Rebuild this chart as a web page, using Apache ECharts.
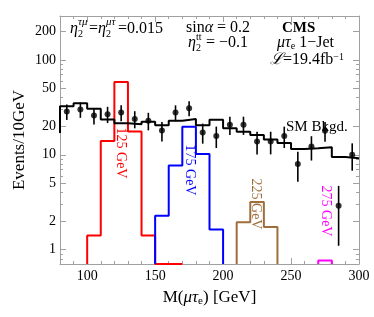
<!DOCTYPE html>
<html><head><meta charset="utf-8">
<script src="https://cdn.jsdelivr.net/npm/echarts@6/dist/echarts.min.js"></script>
<style>html,body{margin:0;padding:0;background:#fff}#c{width:374px;height:317px}</style>
</head><body><div id="c"></div>
<script>
// ---- data ----
const xMajorTicks = [100, 150, 200, 250, 300];
const xMinorTicks = [90, 110, 120, 130, 140, 160, 170, 180, 190, 210, 220, 230, 240, 260, 270, 280, 290];
const yMajorTicks = [1, 2, 5, 10, 20, 50, 100, 200];
const yMinorTicks = [0.8, 0.9, 3, 4, 6, 7, 8, 9, 30, 40, 60, 70, 80, 90];

// step histograms: x = bin right edge (first entry = starting edge), y = bin content
const bkgX = [80, 90, 100, 110, 120, 130, 140, 150, 160, 170, 180, 190, 200, 210, 220, 230, 240, 250, 260, 270, 280, 290, 300];
const bkgY = [17, 32.5, 35, 30.5, 23.5, 21.5, 21, 22.3, 20.5, 22.8, 23.8, 20.5, 23.4, 19, 17.5, 16.2, 14.5, 13.3, 11.5, 11.7, 12, 9.5, 9.2];

const sig125X = [100, 110, 120, 130, 140, 150, 170];
const sig125Y = [0.707, 1.41, 14, 58.5, 17.6, 1.41, 0.707];
const sig175X = [150, 160, 170, 180, 190, 200, 200];
const sig175Y = [0.707, 2.28, 7.7, 19.8, 10.2, 1.63, 0.707];
const sig225X = [210, 220, 230, 240, 240];
const sig225Y = [0.707, 1.95, 3.18, 1.73, 0.707];
const sig275X = [270, 280, 280];
const sig275Y = [0.707, 0.77, 0.707];

// observed data (bin centres), value and error
const obsX = [85, 95, 105, 115, 125, 135, 145, 155, 165, 175, 185, 195, 205, 215, 225, 235, 245, 255, 265, 275, 285, 295];
const obsY = [28.6, 30, 26, 26.8, 27.9, 23.9, 22.9, 18, 27.9, 31, 17.2, 15.8, 20.7, 20.7, 13.8, 13.8, 15.8, 8.0, 12.2, 17.9, 2.9, 10];
const obsErr = [5.3, 5.5, 5.1, 5.2, 5.3, 4.9, 4.8, 4.2, 5.3, 5.6, 4.1, 4.0, 4.5, 4.5, 3.7, 3.7, 4.0, 2.8, 3.5, 4.2, 1.8, 3.2];

const xMin = 80, xMax = 300, yMin = 0.707, yMax = 290;

// ---- chart ----
const SERIF = '"Liberation Serif","DejaVu Serif",serif';
const FRAME = '#a0a0a0';
const zip = (a, b) => a.map((v, i) => [v, b[i]]);

function xAxisDef(pos, ticks, len, showLine, labels, name) {
  return {
    type: 'value', min: xMin, max: xMax, position: pos,
    axisLine: {show: showLine, onZero: false, lineStyle: {color: FRAME, width: 1}},
    axisTick: {show: true, inside: true, length: len, customValues: ticks, lineStyle: {color: FRAME, width: 1}},
    axisLabel: labels ? {show: true, customValues: ticks, color: '#000', fontFamily: SERIF, fontSize: 14, margin: 5} : {show: false},
    splitLine: {show: false},
    name: name || '', nameLocation: 'middle', nameGap: 24, nameMoveOverlap: false,
    nameTextStyle: {color: '#000', fontFamily: SERIF, fontSize: 17,
      rich: {
        n: {fontFamily: SERIF, fontSize: 17, color: '#000'},
        g: {fontFamily: SERIF, fontSize: 17, fontStyle: 'italic', color: '#000'},
        s: {fontFamily: SERIF, fontSize: 11, color: '#000', verticalAlign: 'bottom', padding: [8, 0, 0, 0]}
      }}
  };
}
function yAxisDef(pos, ticks, len, showLine, labels) {
  return {
    type: 'log', logBase: 10, min: yMin, max: yMax, position: pos,
    axisLine: {show: showLine, onZero: false, lineStyle: {color: FRAME, width: 1}},
    axisTick: {show: true, inside: true, length: len, customValues: ticks, lineStyle: {color: FRAME, width: 1}},
    axisLabel: labels ? {show: true, customValues: ticks, color: '#000', fontFamily: SERIF, fontSize: 14, margin: 4} : {show: false},
    splitLine: {show: false}, minorTick: {show: false}
  };
}

const chart = echarts.init(document.getElementById('c'), null, {renderer: 'canvas'});

function stepSeries(xs, ys, color, z) {
  return {type: 'line', step: 'start', data: zip(xs, ys), showSymbol: false, symbol: 'none',
    lineStyle: {color: color, width: 2}, xAxisIndex: 0, yAxisIndex: 0, z: z, clip: true, animation: false};
}

function txt(x, y, text, opts) {
  opts = opts || {};
  return {type: 'text', x: x, y: y, rotation: opts.rot || 0, z: 100,
    style: Object.assign({text: text, fill: opts.color || '#000', font: (opts.style || '') + ' ' + (opts.weight || '') + ' ' + (opts.size || 16) + 'px ' + SERIF,
      align: opts.align || 'left', verticalAlign: 'middle'}, opts.extra || {})};
}
const richBase = {
  n: {fontFamily: SERIF, fontSize: 16, fill: '#000'},
  g: {fontFamily: SERIF, fontSize: 16, fontStyle: 'italic', fill: '#000'},
  b: {fontFamily: SERIF, fontSize: 16, fontWeight: 'bold', fill: '#000'}
};
function rtxt(x, y, text, rich) {
  return {type: 'text', x: x, y: y, z: 100,
    style: {text: text, rich: Object.assign({}, richBase, rich || {}), fill: '#000', fontFamily: SERIF, fontSize: 16, align: 'left', verticalAlign: 'middle'}};
}

const option = {
  animation: false,
  backgroundColor: '#fff',
  grid: {left: 60, right: 15, top: 16, bottom: 53, containLabel: false},
  xAxis: [
    xAxisDef('bottom', xMajorTicks, 6, true, true, '{n|M(}{g|μτ}{s|e}{n|) [GeV]}'),
    xAxisDef('bottom', xMinorTicks, 3, false, false),
    xAxisDef('top', xMajorTicks, 6, true, false),
    xAxisDef('top', xMinorTicks, 3, false, false)
  ],
  yAxis: [
    yAxisDef('left', yMajorTicks, 6, true, true),
    yAxisDef('left', yMinorTicks, 3, false, false),
    yAxisDef('right', yMajorTicks, 6, true, false),
    yAxisDef('right', yMinorTicks, 3, false, false)
  ],
  series: [
    stepSeries(sig125X, sig125Y, '#ff0000', 2),
    stepSeries(sig175X, sig175Y, '#0000ff', 2),
    stepSeries(sig225X, sig225Y, '#a06e3c', 2),
    stepSeries(sig275X, sig275Y, '#ff00ff', 2),
    stepSeries(bkgX, bkgY, '#000000', 3),
    {
      type: 'custom', xAxisIndex: 0, yAxisIndex: 0, z: 4, clip: true,
      data: obsX.map((x, i) => [x, obsY[i] - obsErr[i], obsY[i] + obsErr[i]]),
      encode: {x: 0, y: [1, 2]},
      renderItem: function (params, api) {
        const a = api.coord([api.value(0), api.value(1)]);
        const b = api.coord([api.value(0), api.value(2)]);
        return {type: 'line', shape: {x1: a[0], y1: a[1], x2: b[0], y2: b[1]}, style: {stroke: '#000', lineWidth: 1.6}};
      }
    },
    {type: 'scatter', data: zip(obsX, obsY), symbol: 'circle', symbolSize: 6, itemStyle: {color: '#000'}, z: 5, xAxisIndex: 0, yAxisIndex: 0}
  ],
  graphic: [
    // y axis title
    txt(20, 140, 'Events/10GeV', {size: 17, rot: Math.PI / 2, align: 'center'}),
    // line 1 left: eta2^{tau mu} = eta2^{mu tau} = 0.015
    txt(70, 29, 'η', {style: 'italic', size: 16}),
    txt(78, 34, '2', {size: 10}),
    txt(78, 22, 'τμ', {style: 'italic', size: 11}),
    txt(89, 29, '=', {size: 16}),
    txt(98, 29, 'η', {style: 'italic', size: 16}),
    txt(106, 34, '2', {size: 10}),
    txt(106, 22, 'μτ', {style: 'italic', size: 11}),
    txt(118, 29, '=0.015', {size: 16}),
    // sin alpha
    rtxt(186, 28, '{n|sin}{g|α}{n| = 0.2}'),
    // eta2^tt = -0.1
    txt(188, 43, 'η', {style: 'italic', size: 16}),
    txt(196, 48, '2', {size: 10}),
    txt(196, 37, 'tt', {size: 10}),
    txt(206, 43, '= −0.1', {size: 16}),
    // CMS block
    txt(282, 28, 'CMS', {weight: 'bold', size: 15}),
    rtxt(277, 43, '{g|μτ}{s|e}{n| 1−Jet}', {s: {fontFamily: SERIF, fontSize: 10, fill: '#000', verticalAlign: 'bottom'}}),
    rtxt(270, 60, '{g|ℒ}{n|=19.4fb}{p|−1}', {p: {fontFamily: SERIF, fontSize: 10, fill: '#000', verticalAlign: 'top'}}),
    // annotations
    txt(286, 127, 'SM Bkgd.', {size: 15}),
    txt(121, 153, '125 GeV', {color: '#ff0000', size: 14, rot: -Math.PI / 2, align: 'center'}),
    txt(190, 170, '175 GeV', {color: '#0000ff', size: 14, rot: -Math.PI / 2, align: 'center'}),
    txt(256, 204, '225 GeV', {color: '#a06e3c', size: 14, rot: -Math.PI / 2, align: 'center'}),
    txt(326, 211, '275 GeV', {color: '#ff00ff', size: 14, rot: -Math.PI / 2, align: 'center'})
  ]
};
chart.setOption(option);
</script>
</body></html>
